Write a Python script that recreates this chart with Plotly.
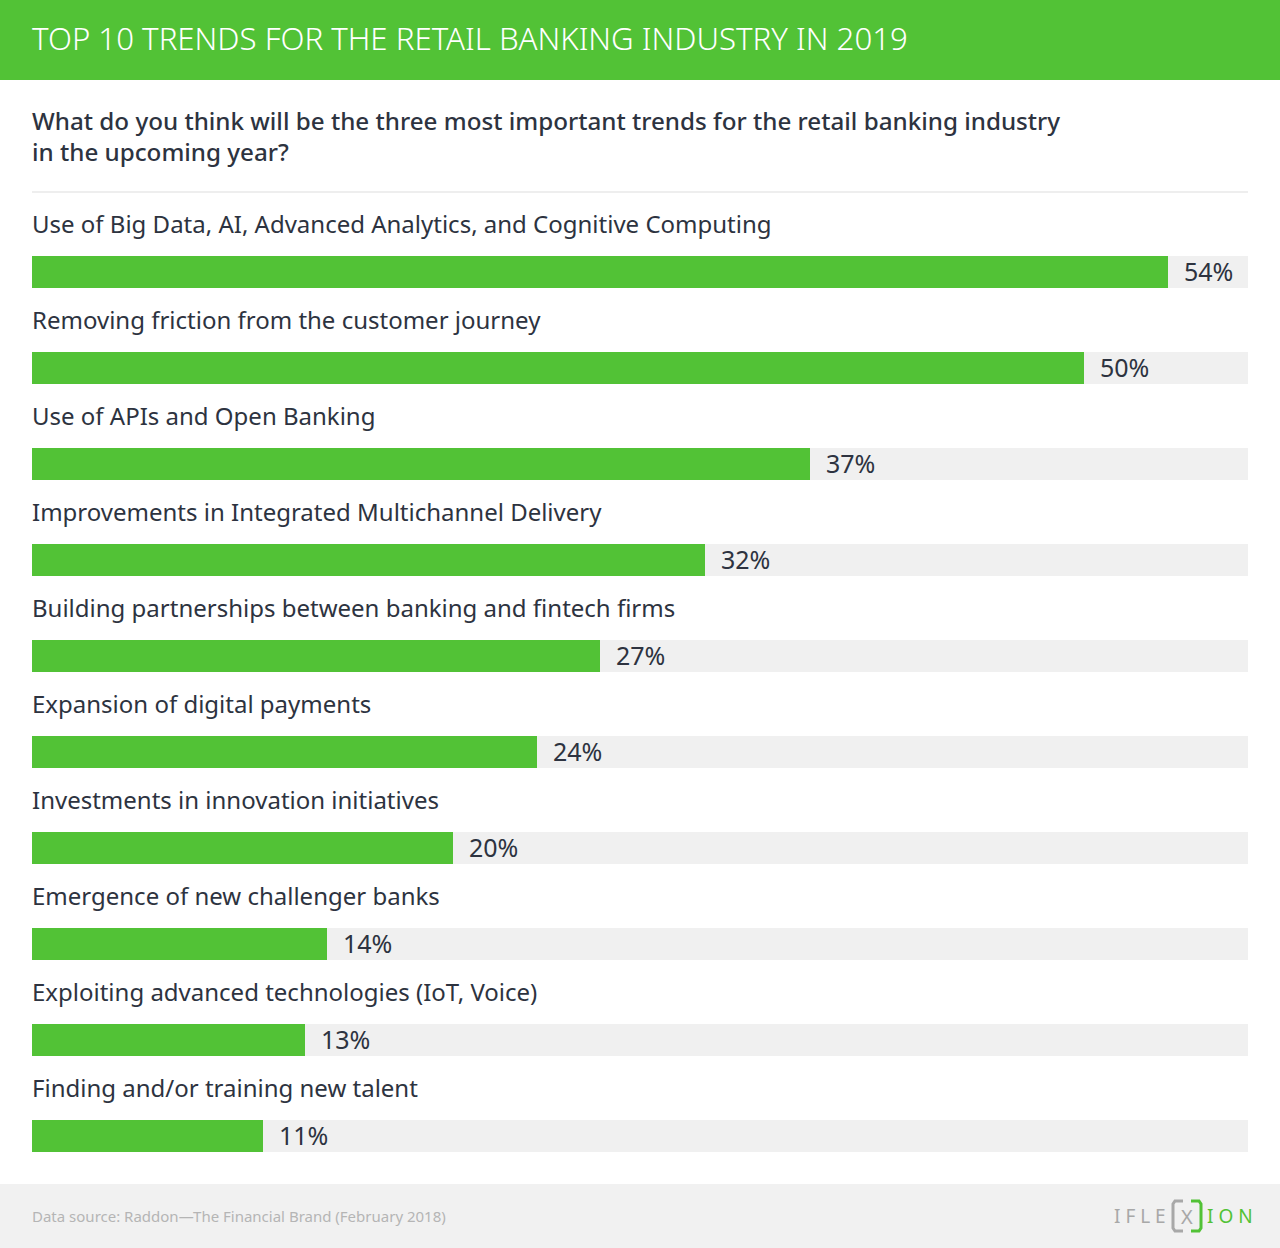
import plotly.graph_objects as go

categories = [
    "Use of Big Data, AI, Advanced Analytics, and Cognitive Computing",
    "Removing friction from the customer journey",
    "Use of APIs and Open Banking",
    "Improvements in Integrated Multichannel Delivery",
    "Building partnerships between banking and fintech firms",
    "Expansion of digital payments",
    "Investments in innovation initiatives",
    "Emergence of new challenger banks",
    "Exploiting advanced technologies (IoT, Voice)",
    "Finding and/or training new talent",
]
values = [54, 50, 37, 32, 27, 24, 20, 14, 13, 11]
value_labels = ["54%", "50%", "37%", "32%", "27%", "24%", "20%", "14%", "13%", "11%"]
track_max = 57.8

title = "TOP 10 TRENDS FOR THE RETAIL BANKING INDUSTRY IN 2019"
subtitle = "What do you think will be the three most important trends for the retail banking industry<br>in the upcoming year?"
source = "Data source: Raddon\u2014The Financial Brand (February 2018)"

W, H = 1280, 1248
GREEN = "#52c236"
TRACK = "#f0f0f0"
DARK = "#2d3340"
FONT = "Noto Sans"

def py(p):
    return 1 - p / H

ypos = list(range(len(categories)))

fig = go.Figure()
fig.add_trace(go.Bar(
    x=[track_max] * len(values), y=ypos, orientation="h",
    marker=dict(color=TRACK, line=dict(width=0)), width=1/3,
    hoverinfo="skip", showlegend=False,
))
fig.add_trace(go.Bar(
    x=values, y=ypos, orientation="h",
    marker=dict(color=GREEN, line=dict(width=0)), width=1/3,
    showlegend=False,
))

annotations = []
for i, c in enumerate(categories):
    annotations.append(dict(
        x=0, y=i - 0.49, xref="x", yref="y", text=c, showarrow=False,
        xanchor="left", yanchor="middle",
        font=dict(family=FONT, size=24, color=DARK), xshift=-2, yshift=1,
    ))
for i, (v, lab) in enumerate(zip(values, value_labels)):
    annotations.append(dict(
        x=v, y=i, xref="x", yref="y", text=lab, showarrow=False,
        xanchor="left", yanchor="middle", xshift=14, yshift=1,
        font=dict(family=FONT, size=25, color=DARK),
    ))

annotations += [
    dict(x=30 / W, y=py(38), xref="paper", yref="paper", text=title, showarrow=False,
         xanchor="left", yanchor="middle", font=dict(family=FONT, size=31.2, color="white", weight=300)),
    dict(x=30 / W, y=py(136), xref="paper", yref="paper", text=subtitle, showarrow=False,
         xanchor="left", yanchor="middle", align="left",
         font=dict(family=FONT, size=24.2, color=DARK, weight=500)),
    dict(x=30 / W, y=py(1216), xref="paper", yref="paper", text=source, showarrow=False,
         xanchor="left", yanchor="middle", font=dict(family=FONT, size=15, color="#b5b5b5")),
    dict(x=1168 / W, y=py(1216), xref="paper", yref="paper", text="I F L E", showarrow=False,
         xanchor="right", yanchor="middle", font=dict(family=FONT, size=19, color="#a8a8a8")),
    dict(x=1187 / W, y=py(1216), xref="paper", yref="paper", text="X", showarrow=False,
         xanchor="center", yanchor="middle", font=dict(family=FONT, size=20, color="#a8a8a8")),
    dict(x=1205 / W, y=py(1216), xref="paper", yref="paper", text="I O N", showarrow=False,
         xanchor="left", yanchor="middle", font=dict(family=FONT, size=19, color=GREEN)),
]

shapes = [
    dict(type="rect", xref="paper", yref="paper", x0=0, x1=1, y0=py(80), y1=1,
         fillcolor=GREEN, line=dict(width=0), layer="below"),
    dict(type="line", xref="paper", yref="paper", x0=32 / W, x1=1248 / W, y0=py(192), y1=py(192),
         line=dict(color="#eeeeee", width=2)),
    dict(type="rect", xref="paper", yref="paper", x0=0, x1=1, y0=0, y1=py(1184),
         fillcolor="#f1f1f1", line=dict(width=0), layer="below"),
    dict(type="path", xref="paper", yref="paper",
         path=f"M {1183/W},{py(1201)} L {1175/W},{py(1201)} L {1173/W},{py(1204)} L {1173/W},{py(1228)} L {1175/W},{py(1231)} L {1183/W},{py(1231)}",
         line=dict(color="#a8a8a8", width=3)),
    dict(type="path", xref="paper", yref="paper",
         path=f"M {1191/W},{py(1201)} L {1199/W},{py(1201)} L {1201/W},{py(1204)} L {1201/W},{py(1228)} L {1199/W},{py(1231)} L {1191/W},{py(1231)}",
         line=dict(color=GREEN, width=3)),
]

fig.update_layout(
    width=W, height=H, margin=dict(l=0, r=0, t=0, b=0),
    paper_bgcolor="white", plot_bgcolor="white",
    barmode="overlay", bargap=0,
    xaxis=dict(domain=[32 / W, 1248 / W], range=[0, track_max], visible=False, fixedrange=True),
    yaxis=dict(domain=[py(1184), py(224)], range=[9.5, -0.5], visible=False, fixedrange=True),
    annotations=annotations, shapes=shapes, showlegend=False,
)

fig.write_html("out.html", config={"displayModeBar": False},
               post_script="document.body.style.margin='0';document.body.style.padding='0';")
